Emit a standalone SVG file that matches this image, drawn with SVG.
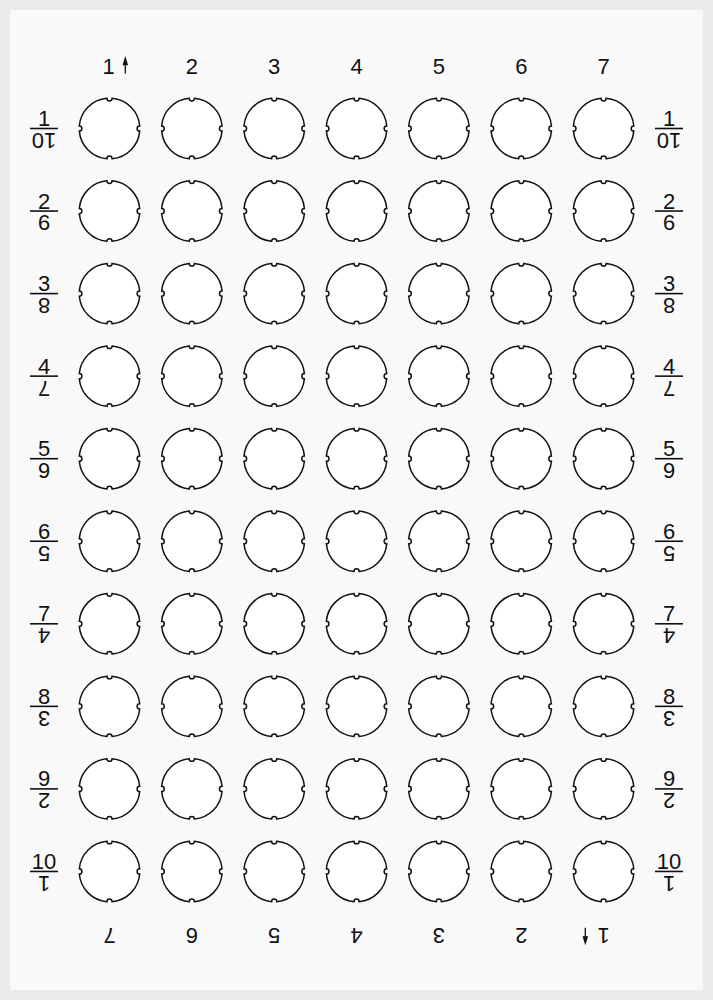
<svg xmlns="http://www.w3.org/2000/svg" xmlns:xlink="http://www.w3.org/1999/xlink" width="713" height="1000" viewBox="0 0 713 1000">
<style>
.bg{fill:#ebebeb}
.page{fill:#f9f9f9}
.sock{fill:#ffffff;stroke:#111;stroke-width:1.5}
.t{font-family:"Liberation Sans",Arial,sans-serif;font-size:22px;fill:#111;text-anchor:middle}
.bar{stroke:#111;stroke-width:1.6}
.arr{stroke:#111;stroke-width:1.3;fill:#111}
</style>
<defs>
<path id="socket" class="sock" d="M-2.6,-30.19 A2.6,2.6 0 0 0 2.6,-30.19 A30.3,30.3 0 0 1 30.19,-2.6 A2.6,2.6 0 0 0 30.19,2.6 A30.3,30.3 0 0 1 2.6,30.19 A2.6,2.6 0 0 0 -2.6,30.19 A30.3,30.3 0 0 1 -30.19,2.6 A2.6,2.6 0 0 0 -30.19,-2.6 A30.3,30.3 0 0 1 -2.6,-30.19 Z"/>
</defs>
<rect class="bg" x="0" y="0" width="713" height="1000"/>
<rect class="page" x="10" y="10" width="693" height="980"/>

<g id="top-labels">
<text class="t" x="108.5" y="73.5">1</text>
<path class="arr" d="M125.3,73.5 V63"/><polygon class="arr" points="125.3,58.3 123.4,64.5 127.2,64.5"/>
<text class="t" x="191.85" y="73.5">2</text>
<text class="t" x="274.2" y="73.5">3</text>
<text class="t" x="356.55" y="73.5">4</text>
<text class="t" x="438.9" y="73.5">5</text>
<text class="t" x="521.25" y="73.5">6</text>
<text class="t" x="603.6" y="73.5">7</text>
</g>

<g id="bottom-labels">
<text class="t" x="109.5" y="943.1" transform="rotate(180 109.5 935.5)">7</text>
<text class="t" x="191.85" y="943.1" transform="rotate(180 191.85 935.5)">6</text>
<text class="t" x="274.2" y="943.1" transform="rotate(180 274.2 935.5)">5</text>
<text class="t" x="356.55" y="943.1" transform="rotate(180 356.55 935.5)">4</text>
<text class="t" x="438.9" y="943.1" transform="rotate(180 438.9 935.5)">3</text>
<text class="t" x="521.25" y="943.1" transform="rotate(180 521.25 935.5)">2</text>
<text class="t" x="603.6" y="943.1" transform="rotate(180 603.6 935.5)">1</text>
<path class="arr" d="M585.3,927.8 V938.3"/><polygon class="arr" points="585.3,943 583.4,936.8 587.2,936.8"/>
</g>

<g id="row-labels-left">
<g id="L1"><text class="t" x="44" y="126">1</text><line class="bar" x1="30" y1="128.5" x2="58" y2="128.5"/><text class="t" x="44" y="148.1" transform="rotate(180 44 140.5)">10</text></g>
<g id="L2"><text class="t" x="44" y="208.55">2</text><line class="bar" x1="30" y1="211.05" x2="58" y2="211.05"/><text class="t" x="44" y="230.65" transform="rotate(180 44 223.05)">9</text></g>
<g id="L3"><text class="t" x="44" y="291.1">3</text><line class="bar" x1="30" y1="293.6" x2="58" y2="293.6"/><text class="t" x="44" y="313.2" transform="rotate(180 44 305.6)">8</text></g>
<g id="L4"><text class="t" x="44" y="373.65">4</text><line class="bar" x1="30" y1="376.15" x2="58" y2="376.15"/><text class="t" x="44" y="395.75" transform="rotate(180 44 388.15)">7</text></g>
<g id="L5"><text class="t" x="44" y="456.2">5</text><line class="bar" x1="30" y1="458.7" x2="58" y2="458.7"/><text class="t" x="44" y="478.3" transform="rotate(180 44 470.7)">6</text></g>
<g id="L6"><text class="t" x="44" y="538.75">6</text><line class="bar" x1="30" y1="541.25" x2="58" y2="541.25"/><text class="t" x="44" y="560.85" transform="rotate(180 44 553.25)">5</text></g>
<g id="L7"><text class="t" x="44" y="621.3">7</text><line class="bar" x1="30" y1="623.8" x2="58" y2="623.8"/><text class="t" x="44" y="643.4" transform="rotate(180 44 635.8)">4</text></g>
<g id="L8"><text class="t" x="44" y="703.85">8</text><line class="bar" x1="30" y1="706.35" x2="58" y2="706.35"/><text class="t" x="44" y="725.95" transform="rotate(180 44 718.35)">3</text></g>
<g id="L9"><text class="t" x="44" y="786.4">9</text><line class="bar" x1="30" y1="788.9" x2="58" y2="788.9"/><text class="t" x="44" y="808.5" transform="rotate(180 44 800.9)">2</text></g>
<g id="L10"><text class="t" x="44" y="868.95">10</text><line class="bar" x1="30" y1="871.45" x2="58" y2="871.45"/><text class="t" x="44" y="891.05" transform="rotate(180 44 883.45)">1</text></g>
</g>

<g id="row-labels-right">
<g id="R1"><text class="t" x="669" y="126">1</text><line class="bar" x1="655" y1="128.5" x2="683" y2="128.5"/><text class="t" x="669" y="148.1" transform="rotate(180 669 140.5)">10</text></g>
<g id="R2"><text class="t" x="669" y="208.55">2</text><line class="bar" x1="655" y1="211.05" x2="683" y2="211.05"/><text class="t" x="669" y="230.65" transform="rotate(180 669 223.05)">9</text></g>
<g id="R3"><text class="t" x="669" y="291.1">3</text><line class="bar" x1="655" y1="293.6" x2="683" y2="293.6"/><text class="t" x="669" y="313.2" transform="rotate(180 669 305.6)">8</text></g>
<g id="R4"><text class="t" x="669" y="373.65">4</text><line class="bar" x1="655" y1="376.15" x2="683" y2="376.15"/><text class="t" x="669" y="395.75" transform="rotate(180 669 388.15)">7</text></g>
<g id="R5"><text class="t" x="669" y="456.2">5</text><line class="bar" x1="655" y1="458.7" x2="683" y2="458.7"/><text class="t" x="669" y="478.3" transform="rotate(180 669 470.7)">6</text></g>
<g id="R6"><text class="t" x="669" y="538.75">6</text><line class="bar" x1="655" y1="541.25" x2="683" y2="541.25"/><text class="t" x="669" y="560.85" transform="rotate(180 669 553.25)">5</text></g>
<g id="R7"><text class="t" x="669" y="621.3">7</text><line class="bar" x1="655" y1="623.8" x2="683" y2="623.8"/><text class="t" x="669" y="643.4" transform="rotate(180 669 635.8)">4</text></g>
<g id="R8"><text class="t" x="669" y="703.85">8</text><line class="bar" x1="655" y1="706.35" x2="683" y2="706.35"/><text class="t" x="669" y="725.95" transform="rotate(180 669 718.35)">3</text></g>
<g id="R9"><text class="t" x="669" y="786.4">9</text><line class="bar" x1="655" y1="788.9" x2="683" y2="788.9"/><text class="t" x="669" y="808.5" transform="rotate(180 669 800.9)">2</text></g>
<g id="R10"><text class="t" x="669" y="868.95">10</text><line class="bar" x1="655" y1="871.45" x2="683" y2="871.45"/><text class="t" x="669" y="891.05" transform="rotate(180 669 883.45)">1</text></g>
</g>

<g id="sockets">
<g id="s-1-1"><use href="#socket" x="109.5" y="128.5"/></g><g id="s-1-2"><use href="#socket" x="191.85" y="128.5"/></g><g id="s-1-3"><use href="#socket" x="274.2" y="128.5"/></g><g id="s-1-4"><use href="#socket" x="356.55" y="128.5"/></g><g id="s-1-5"><use href="#socket" x="438.9" y="128.5"/></g><g id="s-1-6"><use href="#socket" x="521.25" y="128.5"/></g><g id="s-1-7"><use href="#socket" x="603.6" y="128.5"/></g>
<g id="s-2-1"><use href="#socket" x="109.5" y="211.05"/></g><g id="s-2-2"><use href="#socket" x="191.85" y="211.05"/></g><g id="s-2-3"><use href="#socket" x="274.2" y="211.05"/></g><g id="s-2-4"><use href="#socket" x="356.55" y="211.05"/></g><g id="s-2-5"><use href="#socket" x="438.9" y="211.05"/></g><g id="s-2-6"><use href="#socket" x="521.25" y="211.05"/></g><g id="s-2-7"><use href="#socket" x="603.6" y="211.05"/></g>
<g id="s-3-1"><use href="#socket" x="109.5" y="293.6"/></g><g id="s-3-2"><use href="#socket" x="191.85" y="293.6"/></g><g id="s-3-3"><use href="#socket" x="274.2" y="293.6"/></g><g id="s-3-4"><use href="#socket" x="356.55" y="293.6"/></g><g id="s-3-5"><use href="#socket" x="438.9" y="293.6"/></g><g id="s-3-6"><use href="#socket" x="521.25" y="293.6"/></g><g id="s-3-7"><use href="#socket" x="603.6" y="293.6"/></g>
<g id="s-4-1"><use href="#socket" x="109.5" y="376.15"/></g><g id="s-4-2"><use href="#socket" x="191.85" y="376.15"/></g><g id="s-4-3"><use href="#socket" x="274.2" y="376.15"/></g><g id="s-4-4"><use href="#socket" x="356.55" y="376.15"/></g><g id="s-4-5"><use href="#socket" x="438.9" y="376.15"/></g><g id="s-4-6"><use href="#socket" x="521.25" y="376.15"/></g><g id="s-4-7"><use href="#socket" x="603.6" y="376.15"/></g>
<g id="s-5-1"><use href="#socket" x="109.5" y="458.7"/></g><g id="s-5-2"><use href="#socket" x="191.85" y="458.7"/></g><g id="s-5-3"><use href="#socket" x="274.2" y="458.7"/></g><g id="s-5-4"><use href="#socket" x="356.55" y="458.7"/></g><g id="s-5-5"><use href="#socket" x="438.9" y="458.7"/></g><g id="s-5-6"><use href="#socket" x="521.25" y="458.7"/></g><g id="s-5-7"><use href="#socket" x="603.6" y="458.7"/></g>
<g id="s-6-1"><use href="#socket" x="109.5" y="541.25"/></g><g id="s-6-2"><use href="#socket" x="191.85" y="541.25"/></g><g id="s-6-3"><use href="#socket" x="274.2" y="541.25"/></g><g id="s-6-4"><use href="#socket" x="356.55" y="541.25"/></g><g id="s-6-5"><use href="#socket" x="438.9" y="541.25"/></g><g id="s-6-6"><use href="#socket" x="521.25" y="541.25"/></g><g id="s-6-7"><use href="#socket" x="603.6" y="541.25"/></g>
<g id="s-7-1"><use href="#socket" x="109.5" y="623.8"/></g><g id="s-7-2"><use href="#socket" x="191.85" y="623.8"/></g><g id="s-7-3"><use href="#socket" x="274.2" y="623.8"/></g><g id="s-7-4"><use href="#socket" x="356.55" y="623.8"/></g><g id="s-7-5"><use href="#socket" x="438.9" y="623.8"/></g><g id="s-7-6"><use href="#socket" x="521.25" y="623.8"/></g><g id="s-7-7"><use href="#socket" x="603.6" y="623.8"/></g>
<g id="s-8-1"><use href="#socket" x="109.5" y="706.35"/></g><g id="s-8-2"><use href="#socket" x="191.85" y="706.35"/></g><g id="s-8-3"><use href="#socket" x="274.2" y="706.35"/></g><g id="s-8-4"><use href="#socket" x="356.55" y="706.35"/></g><g id="s-8-5"><use href="#socket" x="438.9" y="706.35"/></g><g id="s-8-6"><use href="#socket" x="521.25" y="706.35"/></g><g id="s-8-7"><use href="#socket" x="603.6" y="706.35"/></g>
<g id="s-9-1"><use href="#socket" x="109.5" y="788.9"/></g><g id="s-9-2"><use href="#socket" x="191.85" y="788.9"/></g><g id="s-9-3"><use href="#socket" x="274.2" y="788.9"/></g><g id="s-9-4"><use href="#socket" x="356.55" y="788.9"/></g><g id="s-9-5"><use href="#socket" x="438.9" y="788.9"/></g><g id="s-9-6"><use href="#socket" x="521.25" y="788.9"/></g><g id="s-9-7"><use href="#socket" x="603.6" y="788.9"/></g>
<g id="s-10-1"><use href="#socket" x="109.5" y="871.45"/></g><g id="s-10-2"><use href="#socket" x="191.85" y="871.45"/></g><g id="s-10-3"><use href="#socket" x="274.2" y="871.45"/></g><g id="s-10-4"><use href="#socket" x="356.55" y="871.45"/></g><g id="s-10-5"><use href="#socket" x="438.9" y="871.45"/></g><g id="s-10-6"><use href="#socket" x="521.25" y="871.45"/></g><g id="s-10-7"><use href="#socket" x="603.6" y="871.45"/></g>
</g>
</svg>
